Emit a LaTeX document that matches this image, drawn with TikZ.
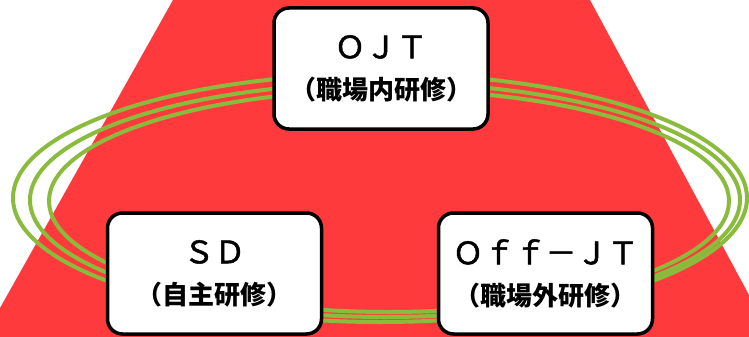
\documentclass[tikz,border=0pt]{standalone}
\usepackage{fontspec}
\setmainfont{Noto Sans CJK JP}
\newfontfamily\jpmed{Noto Sans CJK JP}[FakeBold=1.5]
\definecolor{bgred}{RGB}{255,58,60}
\definecolor{ringgreen}{RGB}{139,187,60}
\begin{document}
\begin{tikzpicture}[x=1pt,y=-1pt,
  box/.style={draw=black, line width=3.5pt, fill=white, rounded corners=15pt,
    minimum width=214pt, minimum height=121pt, align=center, inner sep=0pt},
  ring/.style={draw=ringgreen, line width=4pt},
]
\useasboundingbox (0,0) rectangle (749,337);
\fill[white] (0,0) rectangle (749,337);
\fill[bgred] (173,0) -- (590,0) -- (749,295) -- (749,337) -- (0,337) -- (0,308) -- cycle;
\draw[ring] (380,198) ellipse [x radius=367, y radius=124];
\draw[ring] (385,200) ellipse [x radius=355, y radius=117];
\draw[ring] (389,201) ellipse [x radius=340, y radius=111];
\node[box] (ojt) at (381,68.5) {{\jpmed\fontsize{31}{31}\selectfont ＯＪＴ}\\[17pt]{\bfseries\fontsize{26}{26}\selectfont （職場内研修）}};
\node[box] (sd) at (214.5,273.5) {{\jpmed\fontsize{31}{31}\selectfont ＳＤ}\\[17pt]{\bfseries\fontsize{26}{26}\selectfont （自主研修）}};
\node[box] (off) at (545.5,273.5) {{\jpmed\fontsize{31}{31}\selectfont Ｏｆｆ－ＪＴ}\\[17pt]{\bfseries\fontsize{26}{26}\selectfont （職場外研修）}};
\end{tikzpicture}
\end{document}
